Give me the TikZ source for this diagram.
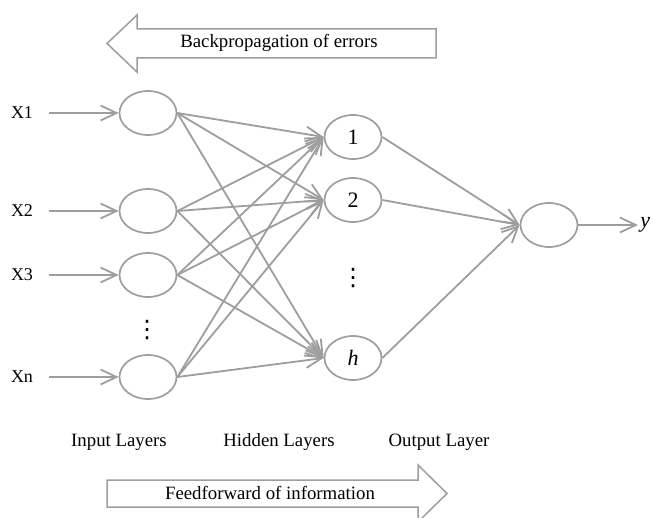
\documentclass[tikz,border=0pt]{standalone}
\usepackage{fontspec}
\setmainfont{Liberation Serif}
\newfontfamily\dotsfont{DejaVu Sans}
\usepackage{xcolor}
\usetikzlibrary{arrows.meta, shapes.geometric, positioning}
\definecolor{netgray}{RGB}{158,158,158}

\begin{document}
\begin{tikzpicture}[
    x=0.5pt, y=-0.5pt,
    neuron/.style={ellipse, draw=netgray, line width=0.85pt, minimum width=28.5pt, minimum height=22pt, inner sep=0pt, font=\fontsize{11}{13}\selectfont},
    link/.style={draw=netgray, line width=0.9pt, -{Straight Barb[length=8pt, width=7.5pt]}},
    bigarrow/.style={draw=netgray, line width=0.75pt, fill=white},
    caption/.style={font=\fontsize{9.4}{11}\selectfont},
    inlabel/.style={font=\fontsize{9}{10}\selectfont, inner sep=1pt},
    vdotsmark/.style={font=\dotsfont\fontsize{12}{14}\selectfont, inner sep=0pt}
]
\useasboundingbox (0,0) rectangle (653,518);

% input layer
\node[neuron] (in1) at (148,113) {};
\node[neuron] (in2) at (148,211) {};
\node[neuron] (in3) at (148,275) {};
\node[neuron] (inn) at (148,377) {};
\node[vdotsmark] (indots) at (147,330) {⋮};

\node[inlabel] (x1) at (22,113) {X1};
\node[inlabel] (x2) at (22,211) {X2};
\node[inlabel] (x3) at (22,275) {X3};
\node[inlabel] (xn) at (22,377) {Xn};

% hidden layer
\node[neuron] (h1) at (353,137) {1};
\node[neuron] (h2) at (353,200) {2};
\node[neuron] (hh) at (353,358) {\textit{h}};
\node[vdotsmark] (hdots) at (353,278) {⋮};

% output layer
\node[neuron] (out) at (549,225) {};
\node[font=\fontsize{11}{13}\selectfont, anchor=west, inner sep=1pt] (ylab) at (638,225) {\textit{y}};

% connections
\draw[link, shorten <=7pt] (x1) -- (in1);
\draw[link, shorten <=7pt] (x2) -- (in2);
\draw[link, shorten <=7pt] (x3) -- (in3);
\draw[link, shorten <=7pt] (xn) -- (inn);
\foreach \i in {in1,in2,in3,inn}
    \foreach \j in {h1,h2,hh}
        \draw[link] (\i.east) -- (\j.west);
\foreach \j in {h1,h2,hh}
    \draw[link] (\j.east) -- (out.west);
\draw[link] (out) -- (ylab);

% layer names
\node[caption] (inname) at (119,442) {Input Layers};
\node[caption] (hidname) at (279,442) {Hidden Layers};
\node[caption] (outname) at (439,442) {Output Layer};

% big arrows
\draw[bigarrow] (436,29) -- (137,29) -- (137,15) -- (107,43.5) -- (137,72) -- (137,58) -- (436,58) -- cycle;
\node[caption] (backprop) at (279,43) {Backpropagation of errors};
\draw[bigarrow] (107,480) -- (418,480) -- (418,465) -- (447,493.5) -- (418,522) -- (418,507) -- (107,507) -- cycle;
\node[caption] (feedfwd) at (270,493) {Feedforward of information};

\end{tikzpicture}
\end{document}
